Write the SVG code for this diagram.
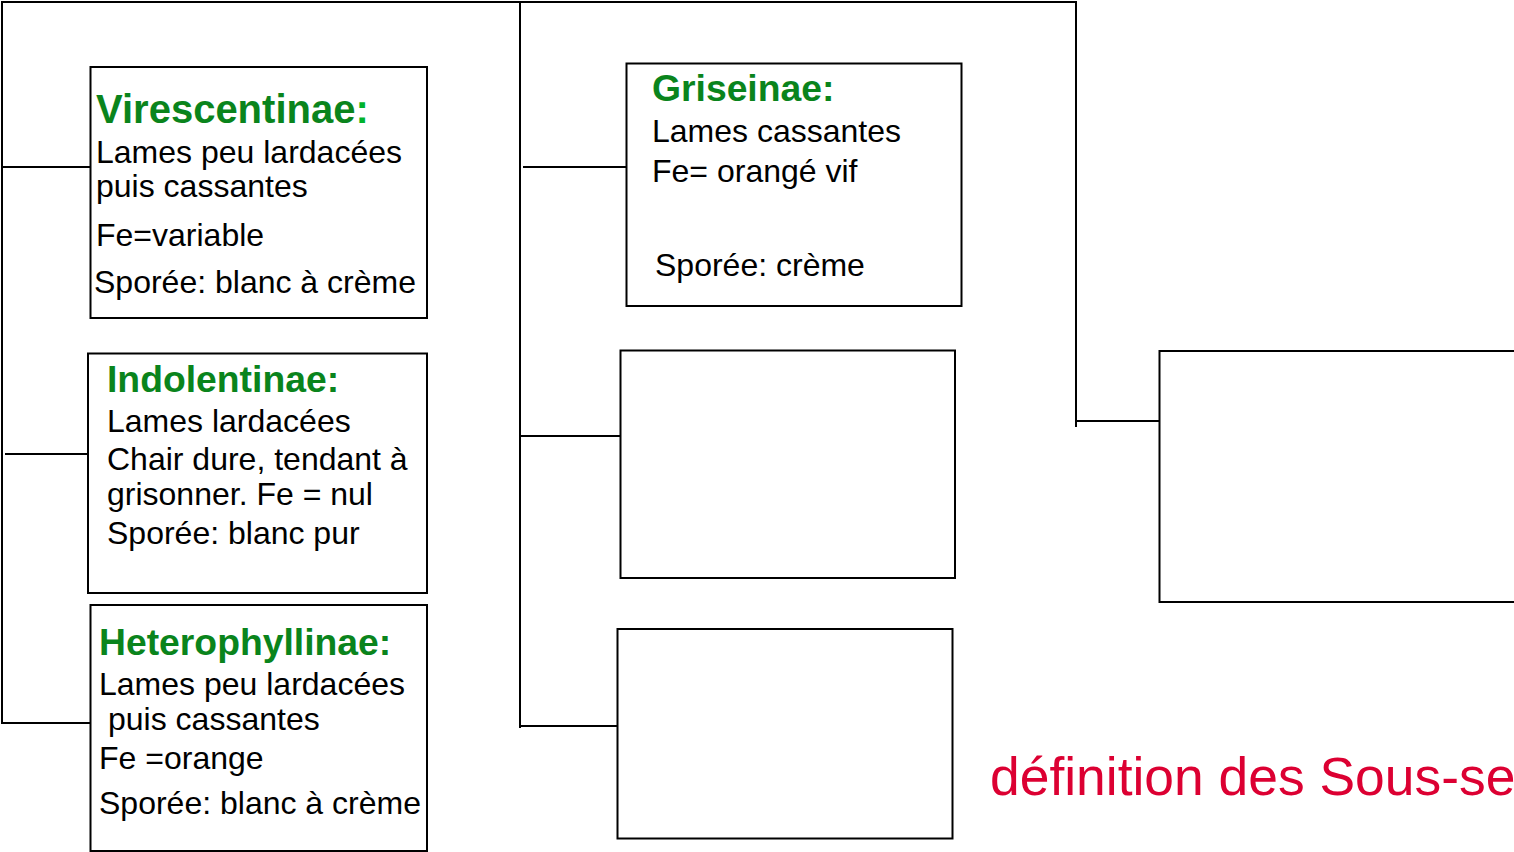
<svg xmlns="http://www.w3.org/2000/svg" width="1514" height="852" viewBox="0 0 1514 852">
<style>
.box{fill:#fff;stroke:#000;stroke-width:2}
.ln{fill:none;stroke:#000;stroke-width:2}
.t{font-family:"Liberation Sans",Arial,sans-serif;font-weight:bold;fill:#0A841C}
.b{font-family:"Liberation Sans",Arial,sans-serif;font-size:32px;fill:#000}
.red{font-family:"Liberation Sans",Arial,sans-serif;font-size:53.4px;fill:#DC0032}
</style>
<rect width="1514" height="852" fill="#fff"/>
<g id="connectors">
<polyline class="ln" points="2,724 2,2 1076,2 1076,427"/>
<line class="ln" x1="520" y1="2" x2="520" y2="728"/>
<line class="ln" x1="2" y1="167" x2="90" y2="167"/>
<line class="ln" x1="5" y1="454" x2="88" y2="454"/>
<line class="ln" x1="2" y1="723" x2="90" y2="723"/>
<line class="ln" x1="523" y1="167" x2="626" y2="167"/>
<line class="ln" x1="520" y1="436" x2="620" y2="436"/>
<line class="ln" x1="520" y1="726" x2="617" y2="726"/>
<line class="ln" x1="1076" y1="421" x2="1159" y2="421"/>
</g>
<g id="virescentinae">
<rect class="box" x="90.5" y="67" width="336.5" height="251"/>
<text class="t" x="96" y="122.5" font-size="40">Virescentinae<tspan fill="#00B32C">:</tspan></text>
<text class="b" x="96" y="163">Lames peu lardacées</text>
<text class="b" x="96" y="197">puis cassantes</text>
<text class="b" x="96" y="246">Fe=variable</text>
<text class="b" x="94" y="293">Sporée: blanc à crème</text>
</g>
<g id="indolentinae">
<rect class="box" x="88" y="353.5" width="339" height="239.5"/>
<text class="t" x="107" y="392" font-size="37.3">Indolentinae:</text>
<text class="b" x="107" y="432">Lames lardacées</text>
<text class="b" x="107" y="470">Chair dure, tendant à</text>
<text class="b" x="107" y="505">grisonner. Fe = nul</text>
<text class="b" x="107" y="543.5">Sporée: blanc pur</text>
</g>
<g id="heterophyllinae">
<rect class="box" x="90.5" y="605" width="336.5" height="246"/>
<text class="t" x="99" y="655" font-size="37.3">Heterophyllinae:</text>
<text class="b" x="99" y="695">Lames peu lardacées</text>
<text class="b" x="108" y="730">puis cassantes</text>
<text class="b" x="99" y="768.5">Fe =orange</text>
<text class="b" x="99" y="813.5">Sporée: blanc à crème</text>
</g>
<g id="griseinae">
<rect class="box" x="626.5" y="63.5" width="335" height="242.5"/>
<text class="t" x="652" y="101" font-size="37.3">Griseinae:</text>
<text class="b" x="652" y="141.5">Lames cassantes</text>
<text class="b" x="652" y="181.5">Fe= orangé vif</text>
<text class="b" x="655" y="276">Sporée: crème</text>
</g>
<g id="box-mid-2">
<rect class="box" x="620.5" y="350.5" width="334.5" height="227.5"/>
</g>
<g id="box-mid-3">
<rect class="box" x="617.5" y="629" width="335" height="209.5"/>
</g>
<g id="box-right">
<rect class="box" x="1159.5" y="351" width="358" height="251"/>
</g>
<text class="red" x="990" y="795">définition des Sous-se</text>
</svg>
